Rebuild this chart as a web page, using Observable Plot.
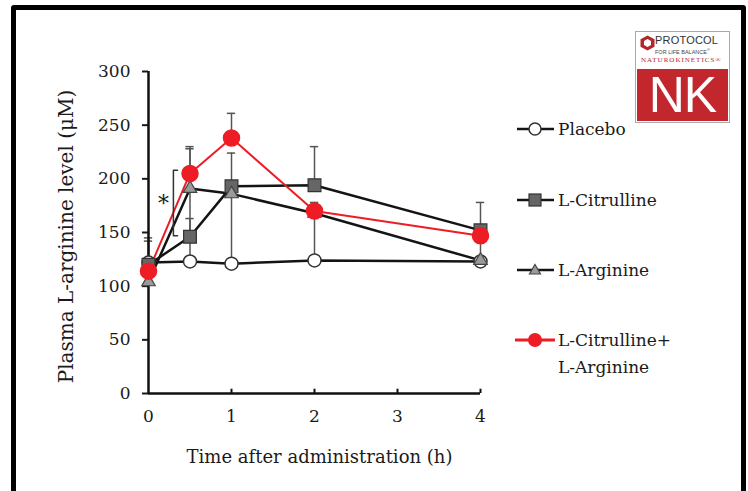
<!DOCTYPE html>
<html>
<head>
<meta charset="utf-8">
<script src="https://cdn.jsdelivr.net/npm/d3@7"></script>
<script src="https://cdn.jsdelivr.net/npm/@observablehq/plot@0.6"></script>
<style>
  html, body { margin: 0; padding: 0; background: #fff; width: 748px; height: 491px; overflow: hidden; }
  #wrap { position: relative; width: 748px; height: 491px; }
  #frame { position: absolute; left: 11px; top: 5px; width: 725px; height: 520px; border: 5px solid #000; border-radius: 3px; pointer-events: none; }
  #chart { position: absolute; left: 0; top: 0; }
  .leg { position: absolute; font-family: "DejaVu Serif", serif; font-size: 17px; color: #1a1a1a; line-height: 20px; white-space: nowrap; }
  .legsym { position: absolute; }
  #logo { position: absolute; left: 635px; top: 31px; width: 93px; height: 90px; border: 1px solid #aaa; background: #fff; font-family: "Liberation Sans", Arial, sans-serif; overflow: hidden; }
  #logo .red { position: absolute; left: 1px; top: 37px; width: 91px; height: 52px; background: #c1272d; color: #fff; font-size: 50px; line-height: 52px; text-align: center; letter-spacing: -1px; }
</style>
</head>
<body>
<div id="wrap">
  <div id="chart"></div>
  <div id="legend"></div>
  <div id="logo">
    <svg style="position:absolute;left:4px;top:3px" width="15" height="16" viewBox="0 0 15 16">
      <polygon points="7.5,0.5 14.5,4.3 14.5,11.7 7.5,15.5 0.5,11.7 0.5,4.3" fill="#b3262b"/>
      <polygon points="7.5,4 11,6 11,10 7.5,12 4,10 4,6" fill="#fff"/>
    </svg>
    <div style="position:absolute;left:19px;top:2px;font-size:11px;color:#333;letter-spacing:0.2px">PROTOCOL</div>
    <div style="position:absolute;left:19px;top:15px;font-size:5.5px;color:#444">FOR LIFE BALANCE<sup style="font-size:4px">®</sup></div>
    <div style="position:absolute;left:5px;top:24px;font-size:7px;color:#b3262b;font-family:'Liberation Serif',serif;letter-spacing:1px">NATUROKINETICS®</div>
    <div class="red">NK</div>
  </div>
  <div id="frame"></div>
</div>
<script>
// ---- data ----
const times = [0, 0.5, 1, 2, 4];
const seriesNames = ["Placebo", "L-Citrulline", "L-Arginine", "L-Citrulline+ L-Arginine"];
const placebo    = [122, 123, 121, 124, 123];
const citrulline = [120, 146, 193, 194, 152];
const arginine   = [104, 191, 186, 168, 124];
const combo      = [114, 205, 238, 170, 147];

const placeboErrUp      = [0, 0, 0, 0, 0];
const placeboErrDown    = [0, 0, 0, 0, 0];
const citrullineErrUp   = [22, 17, 31, 36, 26];
const citrullineErrDown = [0, 0, 0, 0, 0];
const arginineErrUp     = [0, 37, 0, 10, 0];
const arginineErrDown   = [0, 68, 65, 44, 0];
const comboErrUp        = [31, 25, 23, 0, 0];
const comboErrDown      = [0, 0, 0, 0, 24];

const xTicks = [0, 1, 2, 3, 4];
const yTicks = [0, 50, 100, 150, 200, 250, 300];
const xLabel = "Time after administration (h)";
const yLabel = "Plasma L-arginine level (\u03bcM)";

// significance bracket (*) between 0 and 0.5 h
const bracketX = [0.35, 0.3, 0.3, 0.35];
const bracketY = [208, 208, 147, 147];
const starX = 0.18, starY = 177;

// ---- build table ----
const valuesBySeries = [placebo, citrulline, arginine, combo];
const upBySeries = [placeboErrUp, citrullineErrUp, arginineErrUp, comboErrUp];
const downBySeries = [placeboErrDown, citrullineErrDown, arginineErrDown, comboErrDown];
const points = [];
seriesNames.forEach((s, i) => {
  times.forEach((t, j) => {
    points.push({series: s, t, v: valuesBySeries[i][j], up: upBySeries[i][j], down: downBySeries[i][j]});
  });
});
const of = s => points.filter(d => d.series === s);
const errs = points.filter(d => d.up > 0 || d.down > 0);
const capHalf = 0.05;
const caps = [];
errs.forEach(d => {
  if (d.up > 0) caps.push({t: d.t, y: d.v + d.up});
  if (d.down > 0) caps.push({t: d.t, y: d.v - d.down});
});
const bracket = bracketX.map((x, i) => ({x, y: bracketY[i]}));

const lineColor = "#141414";
const red = "#ee1c25";

const plot = Plot.plot({
  width: 748,
  height: 491,
  marginLeft: 148,
  marginRight: 268,
  marginTop: 71,
  marginBottom: 98,
  style: {fontFamily: "DejaVu Serif, serif", color: "#1a1a1a", background: "transparent", overflow: "visible"},
  x: {domain: [0, 4]},
  y: {domain: [0, 300]},
  marks: [
    Plot.axisY({ticks: yTicks, tickFormat: d => String(d), tickSize: 6, tickPadding: 12, fontSize: 17, label: null, strokeWidth: 2}),
    Plot.axisX({ticks: xTicks, tickFormat: d => String(d), tickSize: 0, tickPadding: 16, fontSize: 17, label: null}),
    Plot.ruleX(xTicks.slice(1), {y1: 0, y2: 4, stroke: "#111", strokeWidth: 2}),
    // error bars
    Plot.ruleX(errs, {x: "t", y1: d => d.v - d.down, y2: d => d.v + d.up, stroke: "#555", strokeWidth: 1.5}),
    Plot.ruleY(caps, {y: "y", x1: d => d.t - capHalf, x2: d => d.t + capHalf, stroke: "#555", strokeWidth: 1.5}),
    // axes lines
    Plot.ruleX([0], {y1: 0, y2: 300, stroke: "#111", strokeWidth: 2.5}),
    Plot.ruleY([0], {x1: 0, x2: 4, stroke: "#111", strokeWidth: 2.5}),
    // series lines
    Plot.line(of("Placebo"), {x: "t", y: "v", stroke: lineColor, strokeWidth: 2.5}),
    Plot.line(of("L-Citrulline"), {x: "t", y: "v", stroke: lineColor, strokeWidth: 2.5}),
    Plot.line(of("L-Arginine"), {x: "t", y: "v", stroke: lineColor, strokeWidth: 2.5}),
    Plot.line(of("L-Citrulline+ L-Arginine"), {x: "t", y: "v", stroke: red, strokeWidth: 2}),
    // markers
    Plot.dot(of("Placebo"), {x: "t", y: "v", r: 6.5, fill: "#fff", stroke: "#333", strokeWidth: 1.5}),
    Plot.dot(of("L-Citrulline"), {x: "t", y: "v", symbol: "square", r: 7.2, fill: "#666", stroke: "#333", strokeWidth: 1.2}),
    Plot.dot(of("L-Arginine"), {x: "t", y: "v", symbol: "triangle", r: 5, fill: "#9a9a9a", stroke: "#444", strokeWidth: 1.2}),
    Plot.dot(of("L-Citrulline+ L-Arginine"), {x: "t", y: "v", r: 8, fill: red, stroke: red}),
    // significance annotation
    Plot.line(bracket, {x: "x", y: "y", stroke: "#333", strokeWidth: 1.5}),
    Plot.text([{x: starX, y: starY}], {x: "x", y: "y", text: () => "*", fontSize: 22, fill: "#1a1a1a"}),
    // axis labels
    Plot.text([xLabel], {frameAnchor: "bottom", dx: 5, dy: 69, text: d => d, fontSize: 18, fill: "#1a1a1a"}),
    Plot.text([yLabel], {frameAnchor: "left", textAnchor: "middle", dx: -82, dy: 4, rotate: -90, text: d => d, fontSize: 20, fill: "#1a1a1a"})
  ]
});
document.getElementById("chart").appendChild(plot);

// ---- legend ----
const legendY = [129, 200, 270, 340];
const legend = document.getElementById("legend");
const symbols = [
  `<line x1="2" y1="10" x2="39" y2="10" stroke="${lineColor}" stroke-width="2.5"/><circle cx="20" cy="10" r="6" fill="#fff" stroke="#333" stroke-width="1.5"/>`,
  `<line x1="2" y1="10" x2="39" y2="10" stroke="${lineColor}" stroke-width="2.5"/><rect x="14" y="4" width="12" height="12" fill="#666" stroke="#333" stroke-width="1.2"/>`,
  `<line x1="2" y1="10" x2="39" y2="10" stroke="${lineColor}" stroke-width="2.5"/><polygon points="20,4.5 25.5,14 14.5,14" fill="#9a9a9a" stroke="#444" stroke-width="1.2"/>`,
  `<line x1="0" y1="10" x2="40" y2="10" stroke="${red}" stroke-width="3"/><circle cx="20" cy="10" r="7" fill="${red}"/>`
];
const legendText = ["Placebo", "L-Citrulline", "L-Arginine", "L-Citrulline+<br>L-Arginine"];
seriesNames.forEach((s, i) => {
  const sym = document.createElement("div");
  sym.className = "legsym";
  sym.style.left = "515px";
  sym.style.top = (legendY[i] - 10) + "px";
  sym.innerHTML = `<svg width="42" height="20">${symbols[i]}</svg>`;
  legend.appendChild(sym);
  const tx = document.createElement("div");
  tx.className = "leg";
  tx.style.left = "558px";
  tx.style.top = (legendY[i] - 10) + "px";
  if (i === 3) tx.style.lineHeight = "27px", tx.style.top = (legendY[i] - 13) + "px";
  tx.innerHTML = legendText[i];
  legend.appendChild(tx);
});
</script>
</body>
</html>
